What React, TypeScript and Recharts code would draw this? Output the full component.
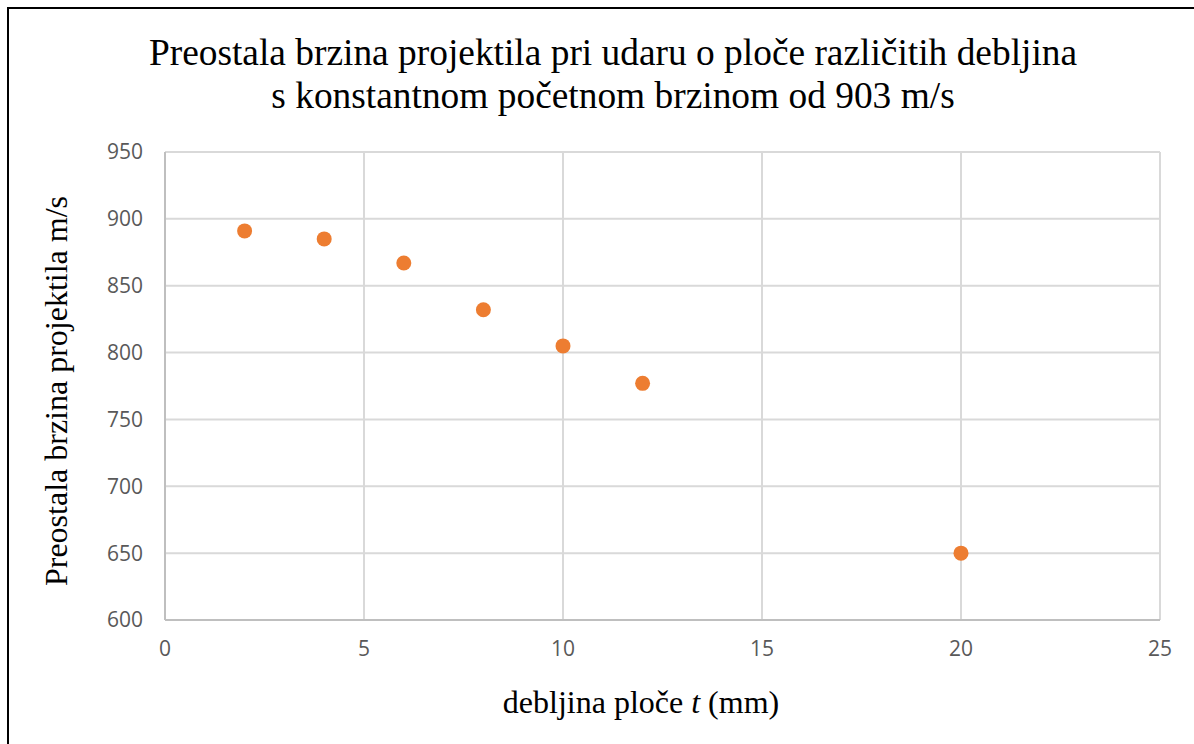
import { CartesianGrid, Scatter, ScatterChart, XAxis, YAxis } from 'recharts';

// thickness of plate in mm, residual velocity in m/s
const thickness = [2, 4, 6, 8, 10, 12, 20];
const residualSpeed = [891, 885, 867, 832, 805, 777, 650];
const xTicks = [0, 5, 10, 15, 20, 25];
const yTicks = [600, 650, 700, 750, 800, 850, 900, 950];

const titleLines = [
  'Preostala brzina projektila pri udaru o ploče različitih debljina',
  's konstantnom početnom brzinom od 903 m/s',
];

const points = thickness.map((t, i) => ({ x: t, y: residualSpeed[i] }));

const serif = '"Liberation Serif", "Times New Roman", serif';
const sans = '"Open Sans", "Noto Sans", sans-serif';

const Dot = (props: any) => <circle cx={props.cx} cy={props.cy} r={7.5} fill="#ED7D31" />;

export default function App() {
  return (
    <div style={{ position: 'absolute', left: 0, top: 0, width: 1194, height: 744, overflow: 'hidden', background: '#fff' }}>
      <div style={{ position: 'absolute', left: 7, top: 7, width: 1300, height: 900, border: '2px solid #000' }} />
      <div style={{ position: 'absolute', left: 0, top: 0 }}>
        <ScatterChart width={1194} height={744} margin={{ top: 152, right: 34, bottom: 84, left: 105 }}>
          <CartesianGrid stroke="#d9d9d9" strokeWidth={2} />
          <XAxis
            type="number"
            dataKey="x"
            domain={[0, 25]}
            ticks={xTicks}
            height={40}
            tickLine={false}
            tickMargin={15}
            axisLine={{ stroke: '#bfbfbf', strokeWidth: 2 }}
            tick={{ fill: '#595959', fontSize: 21, fontFamily: sans }}
          />
          <YAxis
            type="number"
            dataKey="y"
            domain={[600, 950]}
            ticks={yTicks}
            width={60}
            tickLine={false}
            tickMargin={16}
            axisLine={{ stroke: '#bfbfbf', strokeWidth: 2 }}
            tick={{ fill: '#595959', fontSize: 21, fontFamily: sans }}
          />
          <Scatter data={points} shape={Dot} isAnimationActive={false} />
        </ScatterChart>
      </div>
      <svg width={1194} height={744} style={{ position: 'absolute', left: 0, top: 0, pointerEvents: 'none' }}>
        {titleLines.map((line, i) => (
          <text key={i} x={613} y={65 + i * 43} textAnchor="middle" fontFamily={serif} fontSize={37.4} fill="#000">
            {line}
          </text>
        ))}
        <text x={641} y={713} textAnchor="middle" fontFamily={serif} fontSize={32} fill="#000">
          debljina ploče <tspan fontStyle="italic">t</tspan> (mm)
        </text>
        <text x={67} y={391} transform="rotate(-90 67 391)" textAnchor="middle" fontFamily={serif} fontSize={32} fill="#000">
          Preostala brzina projektila m/s
        </text>
      </svg>
    </div>
  );
}
